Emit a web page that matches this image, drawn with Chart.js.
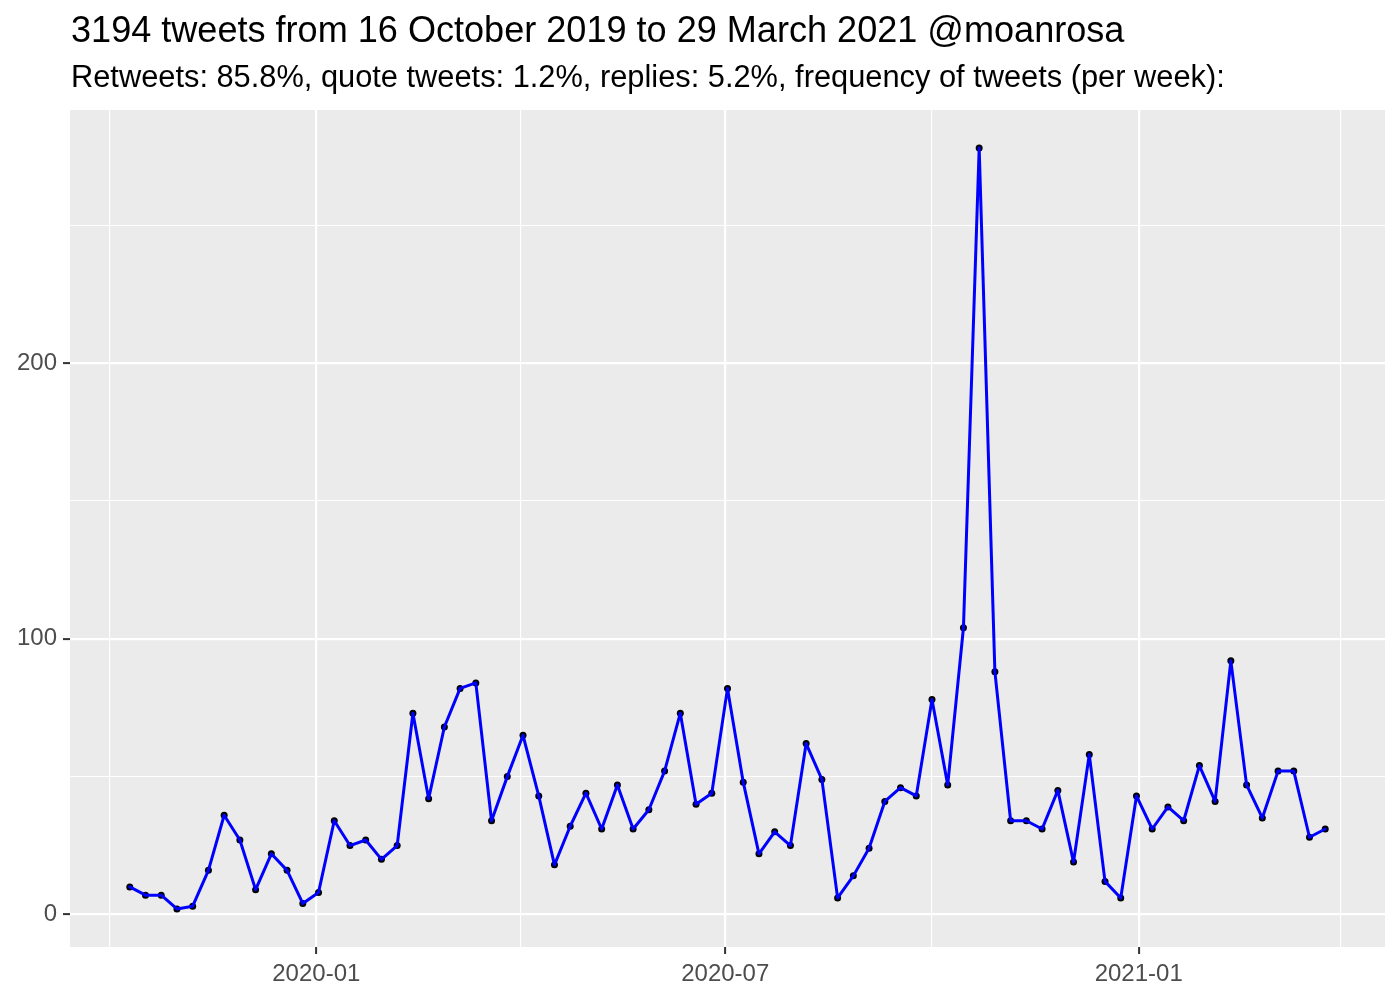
<!DOCTYPE html>
<html>
<head>
<meta charset="utf-8">
<script src="https://cdn.jsdelivr.net/npm/chart.js@4.4.1/dist/chart.umd.min.js"></script>
<style>
html,body{margin:0;padding:0;background:#fff;}
#wrap{position:relative;width:1400px;height:1000px;overflow:hidden;}
#c{position:absolute;left:0;top:0;}
.t{position:absolute;left:71px;font-family:"Liberation Sans",Arial,Helvetica,sans-serif;color:#000;white-space:nowrap;line-height:1;}
#title{top:12px;font-size:36.1px;}
#sub{top:62px;font-size:30.8px;}
</style>
</head>
<body>
<div id="wrap">
<canvas id="c" width="1400" height="1000"></canvas>
<div class="t" id="title">3194 tweets from 16 October 2019 to 29 March 2021 @moanrosa</div>
<div class="t" id="sub">Retweets: 85.8%, quote tweets: 1.2%, replies: 5.2%, frequency of tweets (per week):</div>
</div>
<script>
// Weekly categories (week dates)
const weeks = [
 "2019-10-10","2019-10-17","2019-10-24","2019-10-31","2019-11-07","2019-11-14","2019-11-21","2019-11-28",
 "2019-12-05","2019-12-12","2019-12-19","2019-12-26","2020-01-02","2020-01-09","2020-01-16","2020-01-23",
 "2020-01-30","2020-02-06","2020-02-13","2020-02-20","2020-02-27","2020-03-05","2020-03-12","2020-03-19",
 "2020-03-26","2020-04-02","2020-04-09","2020-04-16","2020-04-23","2020-04-30","2020-05-07","2020-05-14",
 "2020-05-21","2020-05-28","2020-06-04","2020-06-11","2020-06-18","2020-06-25","2020-07-02","2020-07-09",
 "2020-07-16","2020-07-23","2020-07-30","2020-08-06","2020-08-13","2020-08-20","2020-08-27","2020-09-03",
 "2020-09-10","2020-09-17","2020-09-24","2020-10-01","2020-10-08","2020-10-15","2020-10-22","2020-10-29",
 "2020-11-05","2020-11-12","2020-11-19","2020-11-26","2020-12-03","2020-12-10","2020-12-17","2020-12-24",
 "2020-12-31","2021-01-07","2021-01-14","2021-01-21","2021-01-28","2021-02-04","2021-02-11","2021-02-18",
 "2021-02-25","2021-03-04","2021-03-11","2021-03-18","2021-03-25"
];
// Tweets per week
const tweetsPerWeek = [
 10, 7, 7, 2, 3, 16, 36, 27, 9, 22, 16, 4, 8, 34, 25, 27,
 20, 25, 73, 42, 68, 82, 84, 34, 50, 65, 43, 18, 32, 44, 31, 47,
 31, 38, 52, 73, 40, 44, 82, 48, 22, 30, 25, 62, 49, 6, 14, 24,
 41, 46, 43, 78, 47, 104, 278, 88, 34, 34, 31, 45, 19, 58, 12, 6,
 43, 31, 39, 34, 54, 41, 92, 47, 35, 52, 52, 28, 31
];
// Axis ticks
const xMajorDates = ["2020-01-01","2020-07-01","2021-01-01"];
const xMajorLabels = ["2020-01","2020-07","2021-01"];
const xMinorDates = ["2019-10-01","2020-04-01","2020-10-01","2021-04-01"];
const yMajorTicks = [0,100,200];
const yMajorLabels = ["0","100","200"];
const yMinorTicks = [50,150,250];

const ORIGIN = Date.UTC(2020,0,1);
const dayNum = s => { const p = s.split("-").map(Number); return Math.round((Date.UTC(p[0],p[1]-1,p[2]) - ORIGIN)/86400000); };

const pts = weeks.map((w,i) => ({x: dayNum(w), y: tweetsPerWeek[i]}));
const xs = pts.map(p=>p.x), ys = pts.map(p=>p.y);
const xMinD = Math.min(...xs), xMaxD = Math.max(...xs);
const yMinD = Math.min(...ys), yMaxD = Math.max(...ys);
const xPad = (xMaxD-xMinD)*0.05, yPad = (yMaxD-yMinD)*0.05;

const xMajorVals = xMajorDates.map(dayNum);
const xMinorVals = xMinorDates.map(dayNum);
const xLabelMap = {}; xMajorVals.forEach((v,i)=>xLabelMap[v]=xMajorLabels[i]);
const yLabelMap = {}; yMajorTicks.forEach((v,i)=>yLabelMap[v]=yMajorLabels[i]);

const FONT = "'Liberation Sans', Arial, Helvetica, sans-serif";

const panelBg = {
  id:'panelBg',
  beforeDraw(chart){
    const a = chart.chartArea, ctx = chart.ctx;
    ctx.save(); ctx.fillStyle = '#EBEBEB';
    ctx.fillRect(a.left, a.top, a.right-a.left, a.bottom-a.top);
    ctx.restore();
  }
};

new Chart(document.getElementById('c'), {
  type: 'scatter',
  data: {
    datasets: [
      { data: pts, showLine: true, borderColor: '#0000FF', borderWidth: 3, borderJoinStyle: 'round', borderCapStyle: 'round',
        pointRadius: 0, pointHoverRadius: 0, tension: 0, fill: false },
      { data: pts, showLine: false, pointRadius: 3.5, pointBackgroundColor: '#000', pointBorderWidth: 0, pointHoverRadius: 3.5 }
    ]
  },
  options: {
    responsive: false,
    devicePixelRatio: 1,
    animation: false,
    events: [],
    layout: { padding: { top: 110, right: 15, left: 0, bottom: 0 } },
    plugins: { legend: { display: false }, tooltip: { enabled: false }, title: { display: false } },
    scales: {
      x: {
        type: 'linear',
        min: xMinD - xPad, max: xMaxD + xPad,
        afterBuildTicks: s => { s.ticks = [...xMinorVals, ...xMajorVals].sort((a,b)=>a-b).map(v=>({value:v})); },
        afterFit: s => { s.height = 53; },
        border: { display: false },
        grid: {
          color: '#FFFFFF',
          lineWidth: c => (c.tick && xLabelMap[c.tick.value] !== undefined) ? 2.2 : 1.1,
          drawTicks: true, tickLength: 7,
          tickColor: c => (c.tick && xLabelMap[c.tick.value] !== undefined) ? '#333333' : 'rgba(0,0,0,0)',
          tickWidth: 2
        },
        ticks: {
          autoSkip: false, maxRotation: 0, padding: 6,
          color: '#4D4D4D', font: { family: FONT, size: 24 },
          callback: v => xLabelMap[v] !== undefined ? xLabelMap[v] : ''
        }
      },
      y: {
        type: 'linear',
        min: yMinD - yPad, max: yMaxD + yPad,
        afterBuildTicks: s => { s.ticks = [...yMajorTicks, ...yMinorTicks].sort((a,b)=>a-b).map(v=>({value:v})); },
        afterFit: s => { s.width = 70; },
        border: { display: false },
        grid: {
          color: '#FFFFFF',
          lineWidth: c => (c.tick && yLabelMap[c.tick.value] !== undefined) ? 2.2 : 1.1,
          drawTicks: true, tickLength: 7,
          tickColor: c => (c.tick && yLabelMap[c.tick.value] !== undefined) ? '#333333' : 'rgba(0,0,0,0)',
          tickWidth: 2
        },
        ticks: {
          autoSkip: false, padding: 6,
          color: '#4D4D4D', font: { family: FONT, size: 24 },
          callback: v => yLabelMap[v] !== undefined ? yLabelMap[v] : ''
        }
      }
    }
  },
  plugins: [panelBg]
});
</script>
</body>
</html>
